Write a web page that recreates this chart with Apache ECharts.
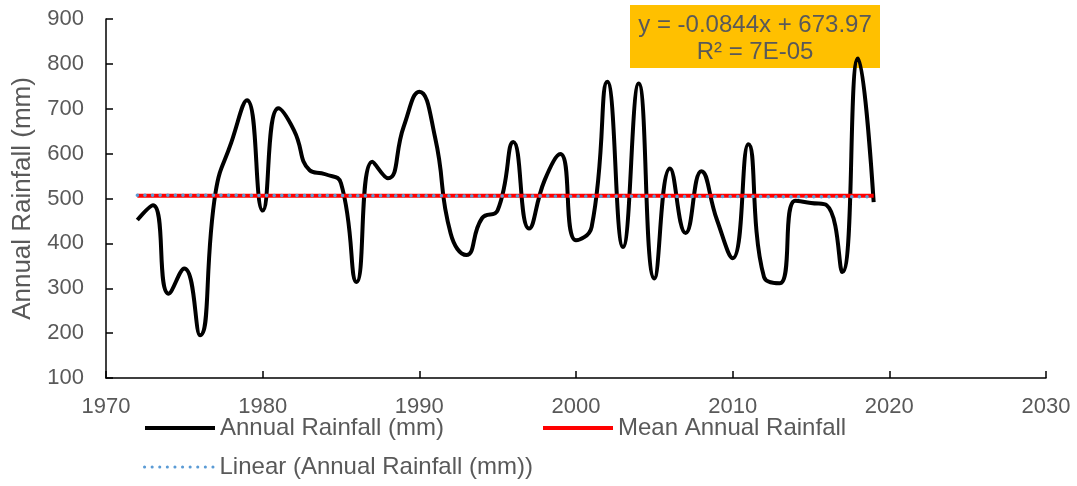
<!DOCTYPE html>
<html>
<head>
<meta charset="utf-8">
<title>Annual Rainfall</title>
<script src="https://cdn.jsdelivr.net/npm/echarts@6/dist/echarts.min.js"></script>
<style>
  html, body { margin: 0; padding: 0; background: #fff; }
  #chart { width: 1077px; height: 486px; }
</style>
</head>
<body>
<div id="chart"></div>
<script>
// values
var years = [1972, 1973, 1974, 1975, 1976, 1977, 1978, 1979, 1980, 1981, 1982, 1983,
  1984, 1985, 1986, 1987, 1988, 1989, 1990, 1991, 1992, 1993, 1994, 1995,
  1996, 1997, 1998, 1999, 2000, 2001, 2002, 2003, 2004, 2005, 2006, 2007,
  2008, 2009, 2010, 2011, 2012, 2013, 2014, 2015, 2016, 2017, 2018, 2019]
var rainfall = [452, 485, 288, 344, 195, 515, 625, 719, 473, 701, 652, 563,
  554, 534, 314, 582, 545, 660, 738, 637, 422, 374, 456, 474,
  626, 433, 541, 599, 407, 437, 760, 392, 756, 322, 567, 423,
  561, 452, 367, 621, 325, 311, 495, 490, 485, 336, 812, 492]
var meanYears = [1972, 2019]
var meanValues = [506, 506]
var trendYears = [1972, 2019]
var trendValues = [507.5, 503.6]
var trendText = ['y = -0.0844x + 673.97', 'R² = 7E-05']

var textColor = '#595959'
var fontFamily = '"Liberation Sans", Arial, sans-serif'

function pairs (xs, ys) {
  return xs.map(function (x, i) { return [x, ys[i]] })
}

function legendAt (name, left, top, lineStyle) {
  return {
    data: [name],
    left: left,
    top: top,
    padding: 0,
    itemWidth: 70,
    itemHeight: 14,
    itemStyle: { opacity: 0 },
    lineStyle: lineStyle,
    textStyle: { color: textColor, fontSize: 24 }
  }
}

var chart = echarts.init(document.getElementById('chart'))
chart.setOption({
  animation: false,
  backgroundColor: '#fff',
  textStyle: { fontFamily: fontFamily },
  grid: {
    left: 106,
    right: 31,
    top: 19,
    bottom: 108,
    containLabel: false,
    outerBoundsMode: 'none'
  },
  xAxis: {
    type: 'value',
    min: 1970,
    max: 2030,
    interval: 10,
    splitLine: { show: false },
    axisLine: { lineStyle: { color: '#000', width: 1.5 } },
    axisTick: { inside: true, length: 7, lineStyle: { color: '#000', width: 1.5 } },
    axisLabel: {
      color: textColor,
      fontSize: 22,
      margin: 18,
      formatter: function (v) { return String(v) }
    }
  },
  yAxis: {
    type: 'value',
    min: 100,
    max: 900,
    interval: 100,
    name: 'Annual Rainfall (mm)',
    nameLocation: 'middle',
    nameGap: 70,
    nameTextStyle: { color: textColor, fontSize: 26 },
    splitLine: { show: false },
    axisLine: { show: true, lineStyle: { color: '#000', width: 1.5 } },
    axisTick: { show: true, inside: true, length: 7, lineStyle: { color: '#000', width: 1.5 } },
    axisLabel: { color: textColor, fontSize: 22, margin: 22 }
  },
  legend: [
    legendAt('Annual Rainfall (mm)', 143, 416, { width: 4 }),
    legendAt('Mean Annual Rainfall', 541, 416, { width: 4 }),
    legendAt('Linear (Annual Rainfall (mm))', 143, 455, { width: 3 })
  ],
  graphic: [
    {
      type: 'group',
      z: 100,
      children: [
        {
          type: 'rect',
          shape: { x: 630, y: 5, width: 250, height: 63 },
          style: { fill: '#FFC000' }
        },
        {
          type: 'text',
          x: 755,
          y: 39,
          style: {
            text: trendText.join('\n'),
            fill: textColor,
            font: '24px ' + fontFamily,
            align: 'center',
            verticalAlign: 'middle',
            lineHeight: 27
          }
        }
      ]
    }
  ],
  series: [
    {
      name: 'Annual Rainfall (mm)',
      type: 'line',
      data: pairs(years, rainfall),
      smooth: 0.5,
      symbol: 'none',
      lineStyle: { color: '#000', width: 4 },
      itemStyle: { color: '#000' }
    },
    {
      name: 'Mean Annual Rainfall',
      type: 'line',
      data: pairs(meanYears, meanValues),
      symbol: 'none',
      lineStyle: { color: '#FF0000', width: 4 },
      itemStyle: { color: '#FF0000' }
    },
    {
      name: 'Linear (Annual Rainfall (mm))',
      type: 'line',
      data: pairs(trendYears, trendValues),
      symbol: 'none',
      lineStyle: { color: '#5B9BD5', width: 3.5, type: [0.1, 7.5], cap: 'round' },
      itemStyle: { color: '#5B9BD5' }
    }
  ]
})
</script>
</body>
</html>
